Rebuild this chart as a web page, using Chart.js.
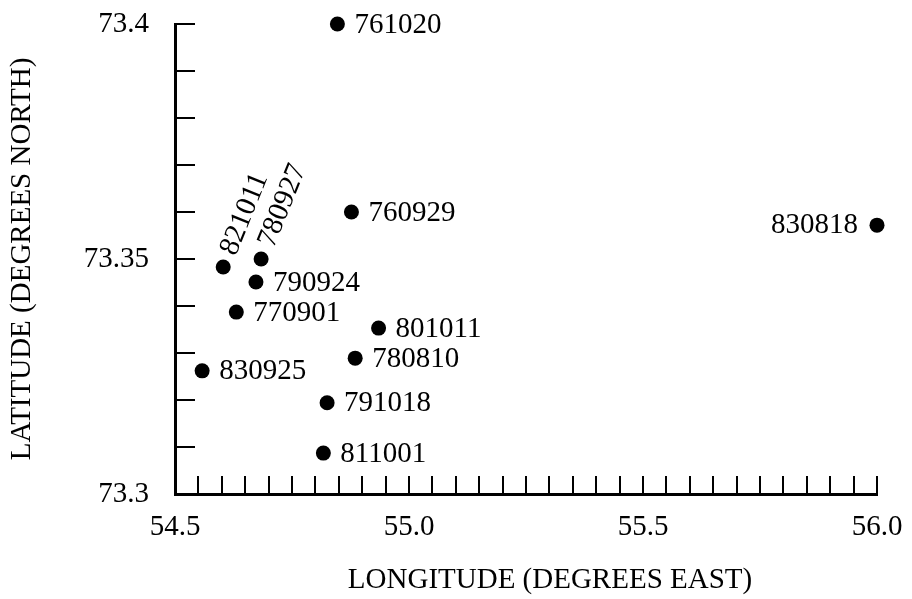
<!DOCTYPE html>
<html>
<head>
<meta charset="utf-8">
<script src="https://cdn.jsdelivr.net/npm/chart.js@4.4.0/dist/chart.umd.min.js"></script>
<style>
  html, body { margin: 0; padding: 0; background: #fff; }
  #wrap { width: 912px; height: 599px; }
</style>
</head>
<body>
<div id="wrap"><canvas id="chart"></canvas></div>
<script>
// station ids (yymmdd) with their positions
const stations = ['761020', '760929', '830818', '821011', '780927', '790924',
                  '770901', '801011', '780810', '830925', '791018', '811001'];
const longitude = [54.847, 54.877, 56.0, 54.603, 54.684, 54.673,
                   54.631, 54.935, 54.885, 54.558, 54.825, 54.817];
const latitude = [73.4, 73.36, 73.3572, 73.3483, 73.35, 73.3451,
                  73.3387, 73.3353, 73.3289, 73.3262, 73.3194, 73.3087];

const xTickLabels = ['54.5', '55.0', '55.5', '56.0'];
const yTickLabels = ['73.3', '73.35', '73.4'];
const xTitle = 'LONGITUDE (DEGREES EAST)';

// where a label sits relative to its dot (default: right)
const labelPlacement = { '830818': 'left', '821011': 'up', '780927': 'up' };

const serif = "'Liberation Serif', 'DejaVu Serif', serif";

// inner tick marks, like the original plot
const innerTicks = {
  id: 'innerTicks',
  afterDraw(chart) {
    const ctx = chart.ctx;
    const area = chart.chartArea;
    const xs = chart.scales.x, ys = chart.scales.y;
    ctx.save();
    ctx.strokeStyle = '#000';
    ctx.lineWidth = 2;
    ctx.beginPath();
    ys.ticks.forEach((t, i) => {
      if (i === 0) return;
      const py = Math.round(ys.getPixelForTick(i));
      ctx.moveTo(area.left, py);
      ctx.lineTo(area.left + 20, py);
    });
    xs.ticks.forEach((t, i) => {
      if (i === 0) return;
      const px = Math.round(xs.getPixelForTick(i));
      ctx.moveTo(px, area.bottom);
      ctx.lineTo(px, area.bottom - 18);
    });
    ctx.stroke();

    // x axis title sits a bit right of centre in the original
    ctx.fillStyle = '#000';
    ctx.font = '29px ' + serif;
    ctx.textAlign = 'center';
    ctx.textBaseline = 'middle';
    ctx.fillText(xTitle, (area.left + area.right) / 2 + 24, chart.height - 19);
    ctx.restore();
  }
};

// station labels next to each dot
const stationLabels = {
  id: 'stationLabels',
  afterDatasetsDraw(chart) {
    const ctx = chart.ctx;
    const meta = chart.getDatasetMeta(0);
    ctx.save();
    ctx.fillStyle = '#000';
    ctx.font = '29px ' + serif;
    ctx.textBaseline = 'middle';
    meta.data.forEach((pt, i) => {
      const name = stations[i];
      const where = labelPlacement[name] || 'right';
      if (where === 'left') {
        ctx.textAlign = 'right';
        ctx.fillText(name, pt.x - 19, pt.y);
      } else if (where === 'up') {
        ctx.save();
        ctx.translate(pt.x, pt.y);
        ctx.rotate(-68 * Math.PI / 180);
        ctx.textAlign = 'left';
        ctx.fillText(name, 14, 0);
        ctx.restore();
      } else {
        ctx.textAlign = 'left';
        ctx.fillText(name, pt.x + 17, pt.y + 1);
      }
    });
    ctx.restore();
  }
};

new Chart(document.getElementById('chart'), {
  type: 'scatter',
  data: {
    datasets: [{
      data: longitude.map((x, i) => ({ x, y: latitude[i] })),
      backgroundColor: '#000',
      borderWidth: 0,
      pointRadius: 7.5,
      pointHoverRadius: 7.5,
      clip: false
    }]
  },
  options: {
    responsive: true,
    maintainAspectRatio: false,
    animation: false,
    layout: { padding: { top: 24, right: 35, bottom: 0, left: 0 } },
    plugins: {
      legend: { display: false },
      tooltip: { enabled: false }
    },
    scales: {
      x: {
        type: 'linear',
        min: 54.5,
        max: 56.0,
        afterFit: s => {
          s.height = 105;
          s.paddingLeft = 0;
          s.paddingRight = 0;
        },
        grid: { display: false },
        border: { display: true, color: '#000', width: 3 },
        ticks: {
          stepSize: 0.05,
          autoSkip: false,
          maxRotation: 0,
          padding: 8,
          color: '#000',
          font: { family: serif, size: 29 },
          callback: (v, i) => (i % 10 === 0 ? xTickLabels[i / 10] : '')
        }
      },
      y: {
        type: 'linear',
        min: 73.3,
        max: 73.4,
        afterFit: s => {
          s.width = 175;
          s.paddingTop = 0;
          s.paddingBottom = 0;
        },
        grid: { display: false },
        border: { display: true, color: '#000', width: 3 },
        ticks: {
          stepSize: 0.01,
          autoSkip: false,
          padding: 18,
          color: '#000',
          font: { family: serif, size: 29 },
          callback: (v, i) => (i % 5 === 0 ? yTickLabels[i / 5] : '')
        },
        title: {
          display: true,
          text: 'LATITUDE (DEGREES NORTH)',
          color: '#000',
          font: { family: serif, size: 29 },
          padding: { top: 5, bottom: 0 }
        }
      }
    }
  },
  plugins: [innerTicks, stationLabels]
});
</script>
</body>
</html>
